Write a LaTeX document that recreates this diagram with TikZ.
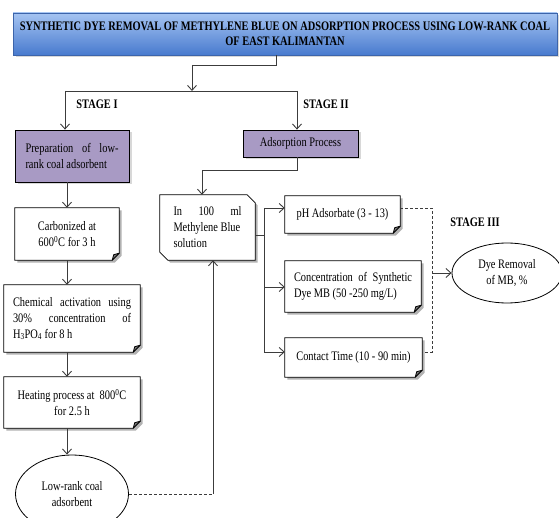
\documentclass[tikz,border=0pt]{standalone}
\usepackage{fontspec}
\setmainfont{Liberation Serif}[FakeStretch=0.8]
\usetikzlibrary{arrows.meta,shapes.geometric,shadows}
\pgfdeclarelayer{background}
\pgfsetlayers{background,main}
\definecolor{purp}{RGB}{168,154,196}
\definecolor{btop}{RGB}{165,196,242}
\definecolor{bbot}{RGB}{72,122,206}
\definecolor{bedge}{RGB}{60,100,170}
\definecolor{lnc}{RGB}{60,60,60}
\newcommand\shapeshadowed[1]{%
  \fill[black!30,transform canvas={shift={(2.5pt,-2.5pt)}}] #1;
  \draw[boxline,fill=white] #1;}
\newcommand\foldshape[1]{%
  \shapeshadowed{(#1.north west) -- (#1.north east) -- ([yshift=7pt]#1.south east) -- ([xshift=-7pt]#1.south east) -- (#1.south west) -- cycle}
  \draw[boxline,fill=black!55,line join=round] ([yshift=7pt]#1.south east) -- ([xshift=-7pt]#1.south east) -- ([shift={(-5.5pt,5.5pt)}]#1.south east) -- cycle;}
\newcommand\chamshape[1]{%
  \shapeshadowed{(#1.north west) -- ([xshift=-8pt]#1.north east) -- ([yshift=-8pt]#1.north east) -- (#1.south east) -- ([xshift=8pt]#1.south west) -- ([yshift=8pt]#1.south west) -- cycle}}
\begin{document}
\begin{tikzpicture}[x=1pt,y=-1pt,
  every node/.style={font=\fontsize{13}{16}\selectfont, inner sep=0pt},
  boxline/.style={draw=black, line width=0.8pt},
  conn/.style={draw=lnc, line width=0.9pt},
  arr/.style={conn, -{Straight Barb[length=5pt,width=9pt]}},
  dsh/.style={conn, dash pattern=on 3pt off 2pt},
  shad/.style={drop shadow={shadow xshift=2.5pt, shadow yshift=-2.5pt, fill=black!30}},
  stagelbl/.style={font=\fontsize{13}{16}\selectfont\bfseries},
  ell/.style={ellipse, boxline, fill=white, align=center}]
\useasboundingbox (0,0) rectangle (559,518);

% title
\node[draw=bedge, line width=0.6pt, top color=btop, bottom color=bbot, shad,
  minimum width=544pt, minimum height=42pt, align=center,
  font=\fontsize{13}{15}\selectfont\bfseries] (title) at (285,34)
  {SYNTHETIC DYE REMOVAL OF METHYLENE BLUE ON ADSORPTION PROCESS USING LOW-RANK COAL\\OF EAST KALIMANTAN};

% stage labels
\node[stagelbl] (st1) at (97,104) {STAGE I};
\node[stagelbl] (st2) at (326,104) {STAGE II};
\node[stagelbl] (st3) at (475,222) {STAGE III};

% stage I column
\node[boxline, fill=purp, shad, minimum width=114pt, minimum height=52pt, align=left] (prep) at (72,156)
  {\makebox[93pt][s]{Preparation of low-}\\rank coal adsorbent};
\node[minimum width=104pt, minimum height=52pt, align=center] (carb) at (67,234)
  {Carbonized at\\600\textsuperscript{0}C for 3 h};
\node[minimum width=136pt, minimum height=67pt, align=left] (chem) at (72,318.5)
  {\makebox[118pt][s]{Chemical activation using}\\\makebox[118pt][s]{30\% concentration of}\\H\textsubscript{3}PO\textsubscript{4} for 8 h};
\node[minimum width=136pt, minimum height=51pt, align=center] (heat) at (72,402.5)
  {Heating process at~ 800\textsuperscript{0}C\\for 2.5 h};
\node[ell, minimum width=113pt, minimum height=78pt] (lowrank) at (72,494)
  {Low-rank coal\\adsorbent};

% stage II
\node[boxline, fill=purp, shad, minimum width=115pt, minimum height=27pt] (adsorp) at (300.5,143.5)
  {Adsorption Process};
\node[minimum width=95pt, minimum height=65pt, align=left] (mb) at (207.5,227.5)
  {\makebox[68pt][s]{In 100 ml}\\Methylene Blue\\solution};
\node[minimum width=115pt, minimum height=37pt] (ph) at (342.5,214.5)
  {pH Adsorbate (3 - 13)};
\node[minimum width=136pt, minimum height=51pt, align=left] (conc) at (353,286.5)
  {\makebox[118pt][s]{Concentration of Synthetic}\\Dye MB (50 -250 mg/L)};
\node[minimum width=137pt, minimum height=39pt] (contact) at (353.5,357.5)
  {Contact Time (10 - 90 min)};

% stage III
\node[ell, minimum width=110pt, minimum height=60pt] (dye) at (507,273)
  {Dye Removal\\of MB, \%};

\begin{pgfonlayer}{background}
  \foldshape{carb}
  \foldshape{chem}
  \foldshape{heat}
  \foldshape{ph}
  \foldshape{conc}
  \foldshape{contact}
  \chamshape{mb}
\end{pgfonlayer}

% connectors: title to stages
\coordinate (j0) at (276,65);
\coordinate (j1) at (192,65);
\coordinate (j2) at (192,91);
\coordinate (s1) at (65,91);
\coordinate (s2) at (297,91);
\draw[conn] (title.south -| j0) -- (j0) -- (j1);
\draw[arr] (j1) -- (j2);
\draw[conn] (s1) -- (s2);
\draw[arr] (s1) -- (prep.north -| s1);
\draw[arr] (s2) -- (adsorp.north -| s2);

% stage I column
\coordinate (cx) at (67,0);
\draw[arr] (prep.south -| cx) -- (carb.north -| cx);
\draw[arr] (carb.south -| cx) -- (chem.north -| cx);
\draw[arr] (chem.south -| cx) -- (heat.north -| cx);
\draw[arr] (heat.south -| cx) -- (lowrank.north -| cx);

% low-rank coal to MB
\coordinate (m1) at (213,494);
\draw[dsh] (lowrank.east) -- (m1);
\draw[arr] (m1) -- (mb.south -| m1);

% adsorption to MB
\coordinate (a1) at (297,170);
\coordinate (a2) at (202,170);
\draw[arr] (adsorp.south -| a1) -- (a1) -- (a2) -- (mb.north -| a2);

% MB to variables
\coordinate (b0) at (264,235);
\coordinate (b1) at (264,208);
\coordinate (b2) at (264,287);
\coordinate (b3) at (264,352);
\draw[conn] (mb.east |- b0) -- (b0);
\draw[conn] (b1) -- (b3);
\draw[arr] (b1) -- (ph.west |- b1);
\draw[arr] (b2) -- (conc.west |- b2);
\draw[arr] (b3) -- (contact.west |- b3);

% variables to dye removal
\coordinate (d1) at (432,208);
\coordinate (d2) at (432,273);
\coordinate (d3) at (432,352);
\draw[dsh] (ph.east |- d1) -- (d1) -- (d3) -- (contact.east |- d3);
\draw[arr] (d2) -- (dye.west);
\end{tikzpicture}
\end{document}
